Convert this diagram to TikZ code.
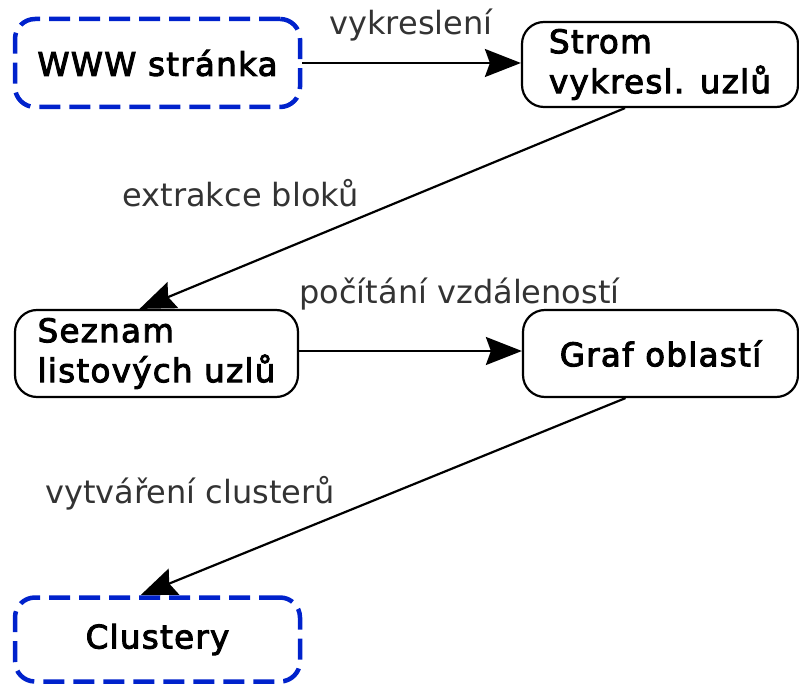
\documentclass[tikz,border=0pt]{standalone}
\usepackage{fontspec}
\setmainfont{DejaVu Sans}
\newfontfamily\boxfont[LetterSpace=4,FakeBold=3]{DejaVu Sans}
\usetikzlibrary{arrows.meta}
\definecolor{dashblue}{RGB}{0,34,204}
\begin{document}
\begin{tikzpicture}[x=1pt,y=-1pt,
  box/.style={draw=black, line width=2.2pt, rounded corners=22pt, align=left,
    font=\boxfont\fontsize{32.5}{40}\selectfont, inner sep=0pt},
  endbox/.style={box, draw=dashblue, line width=4.5pt, rounded corners=20pt,
    dash pattern=on 21pt off 9pt},
  flow/.style={draw, line width=2.2pt, -{Stealth[length=36pt,width=28pt,inset=5pt]}},
  lbl/.style={font=\fontsize{32}{40}\selectfont, text=black!80, anchor=base, inner sep=0pt}]
\useasboundingbox (0,0) rectangle (799,684);

% process steps
\node[endbox, minimum width=285pt, minimum height=88pt] (www) at (157.5,63) {WWW stránka};
\node[box, minimum width=276pt, minimum height=85pt] (strom) at (660,64.5) {Strom\\vykresl. uzlů};
\node[box, minimum width=283pt, minimum height=87pt] (seznam) at (156.5,353.5) {Seznam\\listových uzlů};
\node[box, minimum width=275pt, minimum height=87pt] (graf) at (660.5,353.5) {Graf oblastí};
\node[endbox, minimum width=285pt, minimum height=84pt] (clustery) at (157.5,639.5) {Clustery};

% transitions
\draw[flow] (www.east) -- (www.east -| strom.west);
\draw[flow] ([xshift=-35pt]strom.south) -- ([xshift=-17pt]seznam.north);
\draw[flow] ([yshift=2.5pt]seznam.east) -- ([yshift=2.5pt]seznam.east -| graf.west);
\draw[flow] ([xshift=-35pt]graf.south) -- ([xshift=-17pt]clustery.north);

% transition labels
\node[lbl] (l1) at (411,35) {vykreslení};
\node[lbl] (l2) at (240.5,206.5) {extrakce bloků};
\node[lbl] (l3) at (459.5,303) {počítání vzdáleností};
\node[lbl] (l4) at (190,503) {vytváření clusterů};
\end{tikzpicture}
\end{document}
